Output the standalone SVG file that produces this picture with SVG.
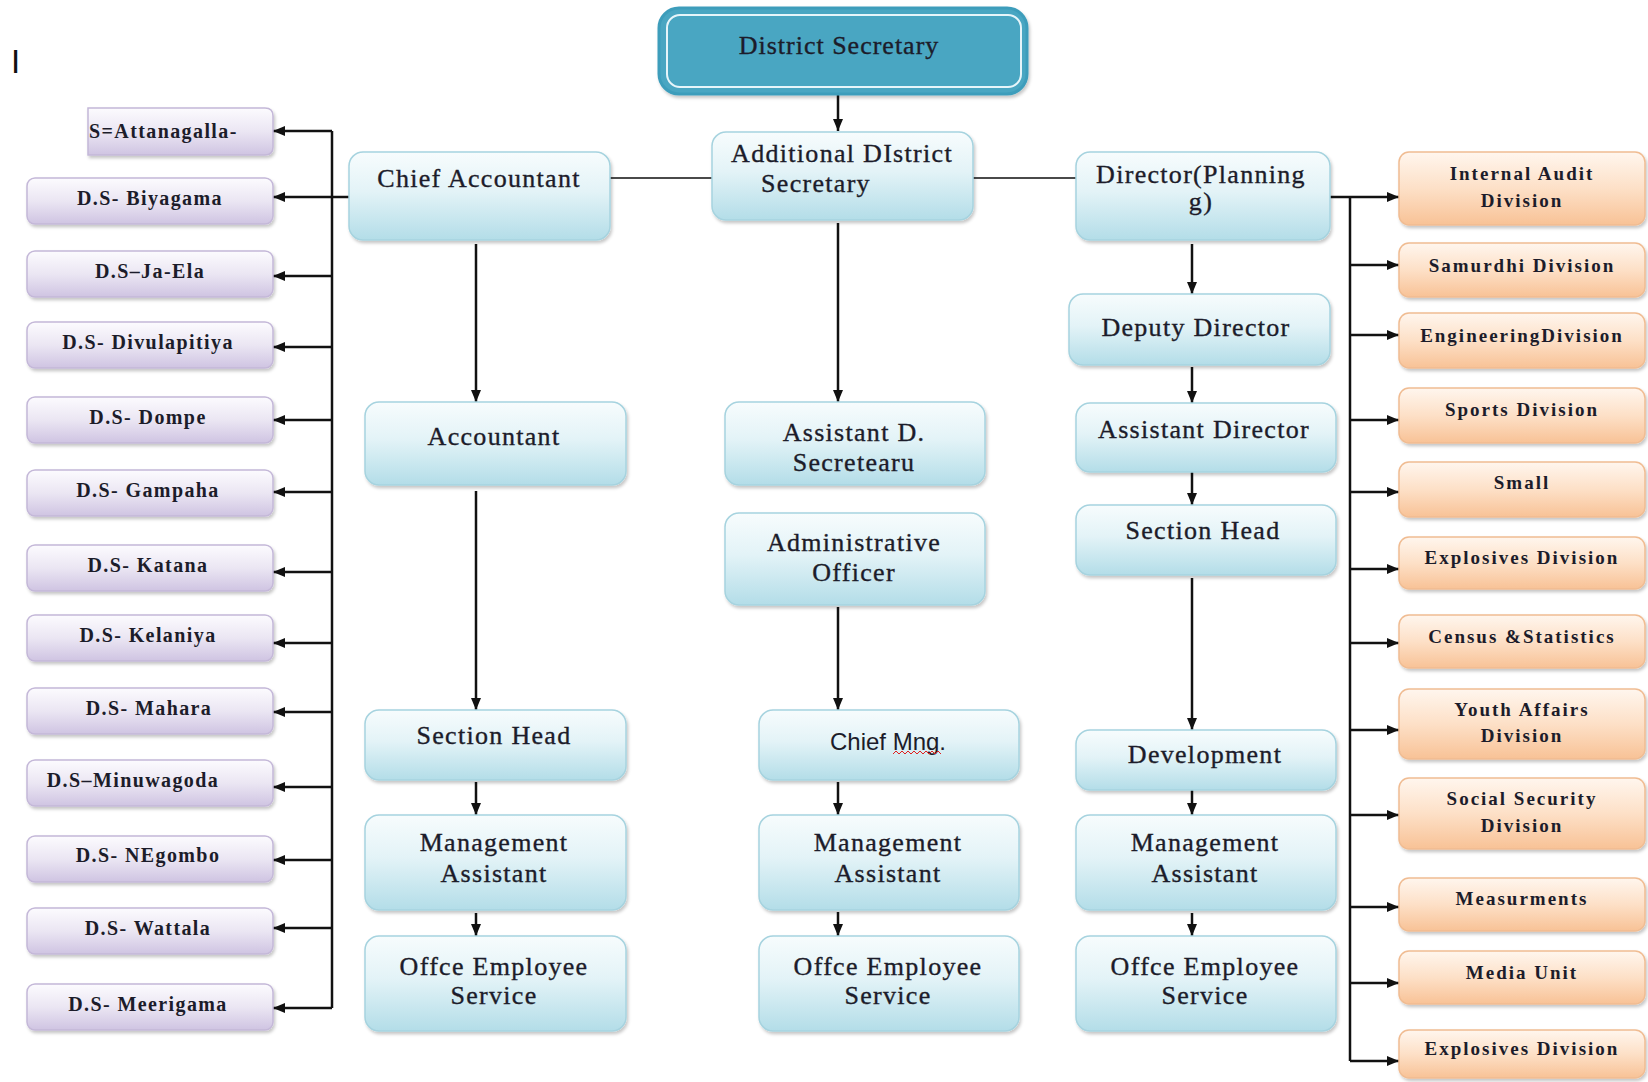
<svg xmlns="http://www.w3.org/2000/svg" width="1648" height="1082" viewBox="0 0 1648 1082">
<defs>
  <linearGradient id="gBlue" x1="0" y1="0" x2="0" y2="1">
    <stop offset="0" stop-color="#f7fcfd"/>
    <stop offset="0.45" stop-color="#e3f3f7"/>
    <stop offset="1" stop-color="#b3dde8"/>
  </linearGradient>
  <linearGradient id="gPurple" x1="0" y1="0" x2="0" y2="1">
    <stop offset="0" stop-color="#fcfbfe"/>
    <stop offset="0.5" stop-color="#ebe6f3"/>
    <stop offset="1" stop-color="#cfc4e2"/>
  </linearGradient>
  <linearGradient id="gOrange" x1="0" y1="0" x2="0" y2="1">
    <stop offset="0" stop-color="#fff6ee"/>
    <stop offset="0.5" stop-color="#fde0c7"/>
    <stop offset="1" stop-color="#f8c296"/>
  </linearGradient>
  <filter id="sh" x="-10%" y="-10%" width="125%" height="135%">
    <feDropShadow dx="1.5" dy="2.5" stdDeviation="1.8" flood-color="#000" flood-opacity="0.22"/>
  </filter>
  <marker id="ah" viewBox="0 0 12 10" refX="12" refY="5" markerWidth="12" markerHeight="10" markerUnits="userSpaceOnUse" orient="auto">
    <path d="M0,0 L12,5 L0,10 z" fill="#111"/>
  </marker>
  <style>
    .blue{fill:url(#gBlue);stroke:#a6d3df;stroke-width:1.5;filter:url(#sh)}
    .purple{fill:url(#gPurple);stroke:#c4b8d8;stroke-width:1.5;filter:url(#sh)}
    .orange{fill:url(#gOrange);stroke:#f0bc92;stroke-width:1.5;filter:url(#sh)}
    .t{font-family:"Liberation Serif","Times New Roman",serif;fill:#1c1c2a;text-anchor:middle}
    .tb{font-size:26px;letter-spacing:1.3px;stroke:#1c1c2a;stroke-width:0.35px}
    .tp{font-size:20px;font-weight:bold;letter-spacing:1.4px}
    .to{font-size:19px;font-weight:bold;letter-spacing:2px}
    .ln{stroke:#111;stroke-width:2.5;fill:none}
    .lg{stroke:#4a4a4a;stroke-width:2;fill:none}
    .ar{marker-end:url(#ah)}
  </style>
</defs>
<rect width="1648" height="1082" fill="#fff"/>
<text x="11" y="73" font-family="Liberation Sans, Arial, sans-serif" font-size="33" fill="#111">I</text>

<g id="connectors">
  <line class="ln ar" x1="838" y1="95" x2="838" y2="131"/>
  <line class="lg" x1="610" y1="178" x2="712" y2="178"/>
  <line class="lg" x1="973" y1="178" x2="1076" y2="178"/>
  <line class="ln" x1="332" y1="131" x2="332" y2="1008"/>
  <line class="ln" x1="349" y1="197" x2="332" y2="197"/>
  <line class="ln ar" x1="332" y1="131" x2="273" y2="131"/>
  <line class="ln ar" x1="332" y1="197" x2="273" y2="197"/>
  <line class="ln ar" x1="332" y1="276" x2="273" y2="276"/>
  <line class="ln ar" x1="332" y1="347" x2="273" y2="347"/>
  <line class="ln ar" x1="332" y1="420" x2="273" y2="420"/>
  <line class="ln ar" x1="332" y1="492" x2="273" y2="492"/>
  <line class="ln ar" x1="332" y1="572" x2="273" y2="572"/>
  <line class="ln ar" x1="332" y1="643" x2="273" y2="643"/>
  <line class="ln ar" x1="332" y1="712" x2="273" y2="712"/>
  <line class="ln ar" x1="332" y1="787" x2="273" y2="787"/>
  <line class="ln ar" x1="332" y1="860" x2="273" y2="860"/>
  <line class="ln ar" x1="332" y1="928" x2="273" y2="928"/>
  <line class="ln ar" x1="332" y1="1008" x2="273" y2="1008"/>
  <line class="ln" x1="1330" y1="197" x2="1350" y2="197"/>
  <line class="ln" x1="1350" y1="197" x2="1350" y2="1061"/>
  <line class="ln ar" x1="1350" y1="197" x2="1399" y2="197"/>
  <line class="ln ar" x1="1350" y1="265" x2="1399" y2="265"/>
  <line class="ln ar" x1="1350" y1="335" x2="1399" y2="335"/>
  <line class="ln ar" x1="1350" y1="420" x2="1399" y2="420"/>
  <line class="ln ar" x1="1350" y1="492" x2="1399" y2="492"/>
  <line class="ln ar" x1="1350" y1="569" x2="1399" y2="569"/>
  <line class="ln ar" x1="1350" y1="643" x2="1399" y2="643"/>
  <line class="ln ar" x1="1350" y1="730" x2="1399" y2="730"/>
  <line class="ln ar" x1="1350" y1="815" x2="1399" y2="815"/>
  <line class="ln ar" x1="1350" y1="907" x2="1399" y2="907"/>
  <line class="ln ar" x1="1350" y1="983" x2="1399" y2="983"/>
  <line class="ln ar" x1="1350" y1="1061" x2="1399" y2="1061"/>
  <line class="ln ar" x1="476" y1="244" x2="476" y2="402"/>
  <line class="ln ar" x1="476" y1="491" x2="476" y2="710"/>
  <line class="ln ar" x1="476" y1="782" x2="476" y2="815"/>
  <line class="ln ar" x1="476" y1="913" x2="476" y2="936"/>
  <line class="ln ar" x1="838" y1="223" x2="838" y2="402"/>
  <line class="ln ar" x1="838" y1="607" x2="838" y2="710"/>
  <line class="ln ar" x1="838" y1="782" x2="838" y2="815"/>
  <line class="ln ar" x1="838" y1="912" x2="838" y2="936"/>
  <line class="ln ar" x1="1192" y1="244" x2="1192" y2="294"/>
  <line class="ln ar" x1="1192" y1="367" x2="1192" y2="403"/>
  <line class="ln ar" x1="1192" y1="472" x2="1192" y2="505"/>
  <line class="ln ar" x1="1192" y1="578" x2="1192" y2="730"/>
  <line class="ln ar" x1="1192" y1="790" x2="1192" y2="815"/>
  <line class="ln ar" x1="1192" y1="913" x2="1192" y2="936"/>
</g>

<g id="n-district-secretary">
  <rect x="659" y="8" width="368" height="86" rx="20" fill="#48a6c2" stroke="#3e9dbb" stroke-width="3" filter="url(#sh)"/>
  <rect x="667" y="15" width="354" height="72" rx="13" fill="none" stroke="#e6f5fa" stroke-width="2"/>
  <text class="t" x="839" y="54" font-size="26" letter-spacing="1" stroke="#1c1c2a" stroke-width="0.35">District Secretary</text>
</g>

<g id="n-additional-ds">
  <rect class="blue" x="712" y="132" width="261" height="88" rx="14"/>
  <text class="t tb" x="842" y="162">Additional DIstrict</text>
  <text class="t tb" x="816" y="192">Secretary</text>
</g>
<g id="n-chief-accountant">
  <rect class="blue" x="349" y="152" width="261" height="88" rx="14"/>
  <text class="t tb" x="479" y="187">Chief Accountant</text>
</g>
<g id="n-director">
  <rect class="blue" x="1076" y="152" width="254" height="88" rx="14"/>
  <text class="t tb" x="1201" y="183">Director(Planning</text>
  <text class="t tb" x="1201" y="210">g)</text>
</g>
<g id="n-deputy-director">
  <rect class="blue" x="1069" y="294" width="261" height="71" rx="14"/>
  <text class="t tb" x="1196" y="336">Deputy Director</text>
</g>
<g id="n-assistant-director">
  <rect class="blue" x="1076" y="403" width="260" height="69" rx="14"/>
  <text class="t tb" x="1204" y="438">Assistant Director</text>
</g>
<g id="n-section-head-r">
  <rect class="blue" x="1076" y="505" width="260" height="70" rx="14"/>
  <text class="t tb" x="1203" y="539">Section Head</text>
</g>
<g id="n-development">
  <rect class="blue" x="1076" y="730" width="260" height="60" rx="14"/>
  <text class="t tb" x="1205" y="763">Development</text>
</g>
<g id="n-mgmt-r">
  <rect class="blue" x="1076" y="815" width="260" height="95" rx="14"/>
  <text class="t tb" x="1205" y="851">Management</text>
  <text class="t tb" x="1205" y="882">Assistant</text>
</g>
<g id="n-offce-r">
  <rect class="blue" x="1076" y="936" width="260" height="95" rx="14"/>
  <text class="t tb" x="1205" y="975">Offce Employee</text>
  <text class="t tb" x="1205" y="1004">Service</text>
</g>

<g id="n-accountant">
  <rect class="blue" x="365" y="402" width="261" height="83" rx="14"/>
  <text class="t tb" x="494" y="445">Accountant</text>
</g>
<g id="n-section-head-l">
  <rect class="blue" x="365" y="710" width="261" height="70" rx="14"/>
  <text class="t tb" x="494" y="744">Section Head</text>
</g>
<g id="n-mgmt-l">
  <rect class="blue" x="365" y="815" width="261" height="95" rx="14"/>
  <text class="t tb" x="494" y="851">Management</text>
  <text class="t tb" x="494" y="882">Assistant</text>
</g>
<g id="n-offce-l">
  <rect class="blue" x="365" y="936" width="261" height="95" rx="14"/>
  <text class="t tb" x="494" y="975">Offce Employee</text>
  <text class="t tb" x="494" y="1004">Service</text>
</g>

<g id="n-assistant-ds">
  <rect class="blue" x="725" y="402" width="260" height="83" rx="14"/>
  <text class="t tb" x="854" y="441">Assistant D.</text>
  <text class="t tb" x="854" y="471">Secretearu</text>
</g>
<g id="n-admin-officer">
  <rect class="blue" x="725" y="513" width="260" height="92" rx="14"/>
  <text class="t tb" x="854" y="551">Administrative</text>
  <text class="t tb" x="854" y="581">Officer</text>
</g>
<g id="n-chief-mng">
  <rect class="blue" x="759" y="710" width="260" height="70" rx="14"/>
  <text x="888" y="750" font-family="Liberation Sans, Arial, sans-serif" font-size="24" fill="#1c1c2a" text-anchor="middle">Chief Mng.</text>
  <path d="M893,754 l3,-3 l3,3 l3,-3 l3,3 l3,-3 l3,3 l3,-3 l3,3 l3,-3 l3,3 l3,-3 l3,3 l3,-3 l3,3 l3,-3 l3,3" fill="none" stroke="#e02020" stroke-width="1"/>
</g>
<g id="n-mgmt-m">
  <rect class="blue" x="759" y="815" width="260" height="95" rx="14"/>
  <text class="t tb" x="888" y="851">Management</text>
  <text class="t tb" x="888" y="882">Assistant</text>
</g>
<g id="n-offce-m">
  <rect class="blue" x="759" y="936" width="260" height="95" rx="14"/>
  <text class="t tb" x="888" y="975">Offce Employee</text>
  <text class="t tb" x="888" y="1004">Service</text>
</g>

<g id="n-attanagalla">
  <path class="purple" d="M88,108 H265 Q273,108 273,116 V147 Q273,155 265,155 H88 Z"/>
  <text class="t tp" x="89" y="138" style="text-anchor:start">S=Attanagalla-</text>
</g>
<g id="n-biyagama"><rect class="purple" x="27" y="178" width="246" height="46" rx="8"/><text class="t tp" x="150" y="205">D.S- Biyagama</text></g>
<g id="n-jaela"><rect class="purple" x="27" y="251" width="246" height="46" rx="8"/><text class="t tp" x="150" y="278">D.S–Ja-Ela</text></g>
<g id="n-divulapitiya"><rect class="purple" x="27" y="322" width="246" height="46" rx="8"/><text class="t tp" x="148" y="349">D.S- Divulapitiya</text></g>
<g id="n-dompe"><rect class="purple" x="27" y="397" width="246" height="46" rx="8"/><text class="t tp" x="148" y="424">D.S- Dompe</text></g>
<g id="n-gampaha"><rect class="purple" x="27" y="470" width="246" height="46" rx="8"/><text class="t tp" x="148" y="497">D.S- Gampaha</text></g>
<g id="n-katana"><rect class="purple" x="27" y="545" width="246" height="46" rx="8"/><text class="t tp" x="148" y="572">D.S- Katana</text></g>
<g id="n-kelaniya"><rect class="purple" x="27" y="615" width="246" height="46" rx="8"/><text class="t tp" x="148" y="642">D.S- Kelaniya</text></g>
<g id="n-mahara"><rect class="purple" x="27" y="688" width="246" height="46" rx="8"/><text class="t tp" x="149" y="715">D.S- Mahara</text></g>
<g id="n-minuwagoda"><rect class="purple" x="27" y="760" width="246" height="46" rx="8"/><text class="t tp" x="133" y="787">D.S–Minuwagoda</text></g>
<g id="n-negombo"><rect class="purple" x="27" y="836" width="246" height="46" rx="8"/><text class="t tp" x="148" y="862">D.S- NEgombo</text></g>
<g id="n-wattala"><rect class="purple" x="27" y="908" width="246" height="46" rx="8"/><text class="t tp" x="148" y="935">D.S- Wattala</text></g>
<g id="n-meerigama"><rect class="purple" x="27" y="984" width="246" height="46" rx="8"/><text class="t tp" x="148" y="1011">D.S- Meerigama</text></g>

<g id="n-internal-audit"><rect class="orange" x="1399" y="152" width="246" height="73" rx="10"/><text class="t to" x="1522" y="180">Internal Audit</text><text class="t to" x="1522" y="207">Division</text></g>
<g id="n-samurdhi"><rect class="orange" x="1399" y="243" width="246" height="54" rx="10"/><text class="t to" x="1522" y="272">Samurdhi Division</text></g>
<g id="n-engineering"><rect class="orange" x="1399" y="313" width="246" height="55" rx="10"/><text class="t to" x="1522" y="342">EngineeringDivision</text></g>
<g id="n-sports"><rect class="orange" x="1399" y="388" width="246" height="55" rx="10"/><text class="t to" x="1522" y="416">Sports Division</text></g>
<g id="n-small"><rect class="orange" x="1399" y="462" width="246" height="55" rx="10"/><text class="t to" x="1522" y="489">Small</text></g>
<g id="n-explosives-1"><rect class="orange" x="1399" y="537" width="246" height="52" rx="10"/><text class="t to" x="1522" y="564">Explosives Division</text></g>
<g id="n-census"><rect class="orange" x="1399" y="615" width="246" height="53" rx="10"/><text class="t to" x="1522" y="643">Census &amp;Statistics</text></g>
<g id="n-youth"><rect class="orange" x="1399" y="689" width="246" height="70" rx="10"/><text class="t to" x="1522" y="716">Youth Affairs</text><text class="t to" x="1522" y="742">Division</text></g>
<g id="n-social"><rect class="orange" x="1399" y="778" width="246" height="71" rx="10"/><text class="t to" x="1522" y="805">Social Security</text><text class="t to" x="1522" y="832">Division</text></g>
<g id="n-measurments"><rect class="orange" x="1399" y="878" width="246" height="53" rx="10"/><text class="t to" x="1522" y="905">Measurments</text></g>
<g id="n-media"><rect class="orange" x="1399" y="951" width="246" height="53" rx="10"/><text class="t to" x="1522" y="979">Media Unit</text></g>
<g id="n-explosives-2"><rect class="orange" x="1399" y="1030" width="246" height="48" rx="10"/><text class="t to" x="1522" y="1055">Explosives Division</text></g>
</svg>
